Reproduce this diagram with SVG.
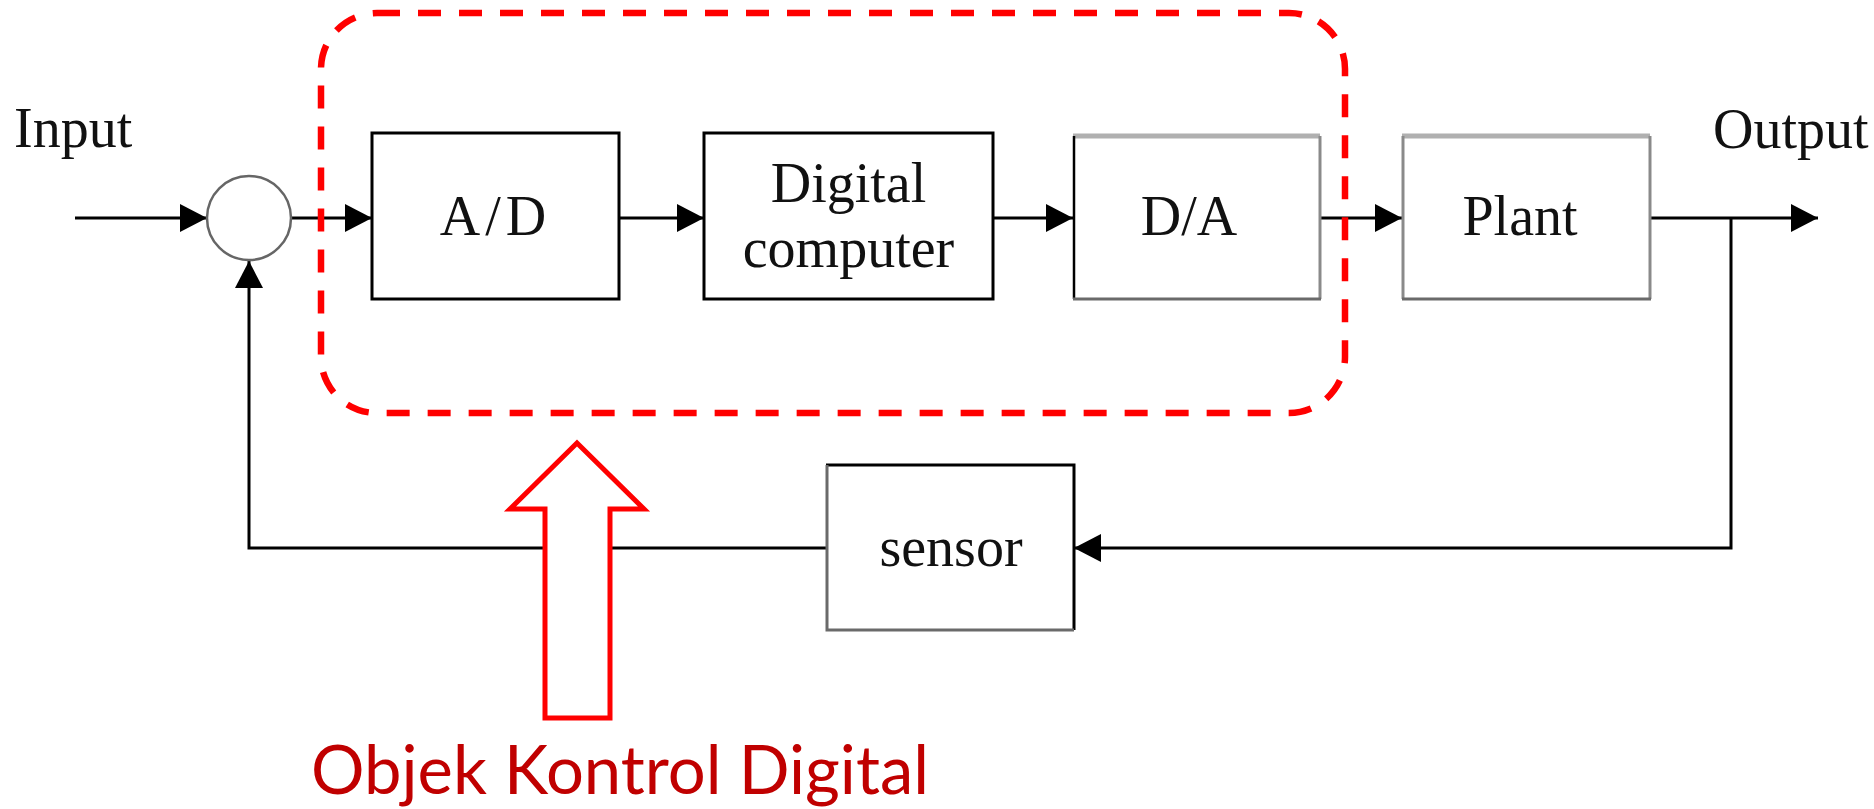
<svg xmlns="http://www.w3.org/2000/svg" width="1874" height="809" viewBox="0 0 1874 809">
  <style>
    .lbl { font-family: "Liberation Serif", "Times New Roman", serif; font-size: 56px; fill: #111; }
    .box { fill: #fff; stroke: #000; stroke-width: 3; }
    .fill { fill: #fff; stroke: none; }
    .edge-k { stroke: #000; stroke-width: 3; fill: none; }
    .edge-k2 { stroke: #000; stroke-width: 2.5; fill: none; }
    .edge-lt { stroke: #b0b0b0; stroke-width: 5; fill: none; }
    .edge-md { stroke: #8a8a8a; stroke-width: 3; fill: none; }
    .edge-dk { stroke: #6a6a6a; stroke-width: 3; fill: none; }
    .wire { stroke: #000; stroke-width: 3; fill: none; }
    .group-outline { fill: none; stroke: #ff0000; stroke-width: 6.5; stroke-dasharray: 23 18; }
    .callout { fill: #fff; stroke: #ff0000; stroke-width: 5; stroke-linejoin: miter; }
    .caption { font-family: Lato, "Open Sans", "Liberation Sans", sans-serif; font-size: 68px; fill: #c00000; }
  </style>
  <defs>
    <marker id="arrow" markerUnits="userSpaceOnUse" markerWidth="28" markerHeight="28" refX="27" refY="14" orient="auto">
      <path d="M0,0 L27,14 L0,28 z" fill="#000"/>
    </marker>
  </defs>

  <rect width="1874" height="809" fill="#fff"/>

  <!-- signal labels -->
  <text class="lbl" x="14" y="147">Input</text>
  <text class="lbl" x="1713" y="148">Output</text>

  <!-- connectors -->
  <g id="connectors">
    <path class="wire" d="M75,218 H207" marker-end="url(#arrow)"/>
    <path class="wire" d="M291,218 H372" marker-end="url(#arrow)"/>
    <path class="wire" d="M619,218 H704" marker-end="url(#arrow)"/>
    <path class="wire" d="M993,218 H1073" marker-end="url(#arrow)"/>
    <path class="wire" d="M1320,218 H1402" marker-end="url(#arrow)"/>
    <path class="wire" d="M1650,218 H1818" marker-end="url(#arrow)"/>
    <path class="wire" d="M1731,218 V548 H1074" marker-end="url(#arrow)"/>
    <path class="wire" d="M826,548 H249 V261" marker-end="url(#arrow)"/>
  </g>

  <!-- summing junction -->
  <g id="sum">
    <circle cx="249" cy="218" r="42" fill="#fff" stroke="#666" stroke-width="2.5"/>
  </g>

  <!-- A/D converter -->
  <g id="ad">
    <rect class="box" x="372" y="133" width="247" height="166"/>
    <text class="lbl" x="495.5" y="235" text-anchor="middle" letter-spacing="5">A/D</text>
  </g>

  <!-- digital computer -->
  <g id="computer">
    <rect class="box" x="704" y="133" width="289" height="166"/>
    <text class="lbl" x="848.5" y="202" text-anchor="middle">Digital</text>
    <text class="lbl" x="848.5" y="267" text-anchor="middle">computer</text>
  </g>

  <!-- D/A converter -->
  <g id="da">
    <rect class="fill" x="1073" y="135" width="247" height="164"/>
    <path class="edge-lt" d="M1073,136 H1320"/>
    <path class="edge-k2" d="M1074,136 V299"/>
    <path class="edge-md" d="M1320,136 V299"/>
    <path class="edge-dk" d="M1073,299 H1321"/>
    <text class="lbl" x="1189" y="235" text-anchor="middle">D/A</text>
  </g>

  <!-- plant -->
  <g id="plant">
    <rect class="fill" x="1402" y="135" width="248" height="164"/>
    <path class="edge-lt" d="M1402,136 H1650"/>
    <path class="edge-md" d="M1403,136 V299"/>
    <path class="edge-md" d="M1650,136 V299"/>
    <path class="edge-dk" d="M1402,299 H1651"/>
    <text class="lbl" x="1520" y="235" text-anchor="middle">Plant</text>
  </g>

  <!-- sensor -->
  <g id="sensor">
    <rect class="fill" x="826" y="464" width="248" height="166"/>
    <path class="edge-k" d="M826,465 H1074 V630"/>
    <path class="edge-dk" d="M827,465 V630 H1074"/>
    <text class="lbl" x="951" y="566" text-anchor="middle">sensor</text>
  </g>

  <!-- digital control boundary -->
  <g id="digital-boundary">
    <rect class="group-outline" x="321" y="13" width="1024" height="400" rx="56" ry="56"/>
  </g>

  <!-- callout arrow and caption -->
  <g id="callout">
    <polygon class="callout" points="577,443 644,509 610,509 610,718 545,718 545,509 510,509"/>
    <text class="caption" x="311" y="794" textLength="618" lengthAdjust="spacingAndGlyphs">Objek Kontrol Digital</text>
  </g>
</svg>
